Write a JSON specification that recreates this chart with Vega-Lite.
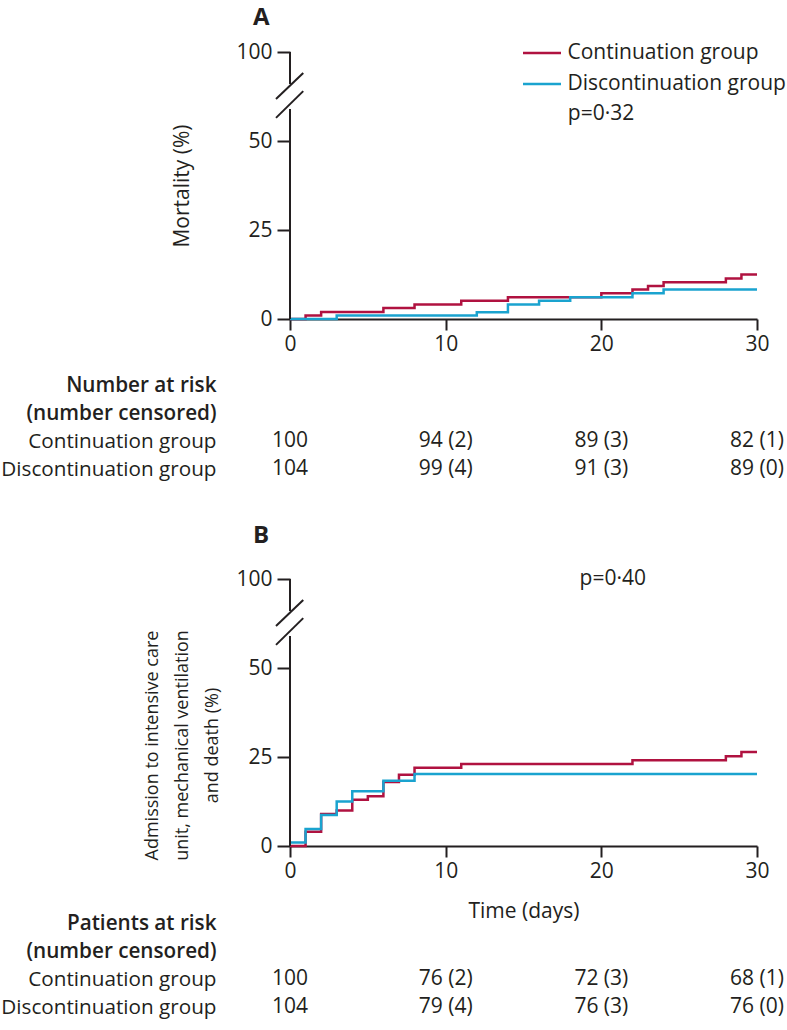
{
  "$schema": "https://vega.github.io/schema/vega-lite/v6.json",
  "background": "white",
  "padding": {"left": 0, "top": 6, "right": 0, "bottom": 0},
  "config": {
    "font": "Open Sans",
    "view": {"stroke": null},
    "axis": {"labelFont": "Open Sans", "titleFont": "Open Sans", "labelColor": "#231f20", "titleColor": "#231f20", "domainColor": "#231f20", "tickColor": "#231f20", "labelFontSize": 21, "titleFontSize": 21, "titleFontWeight": "normal", "grid": false, "domainWidth": 2, "tickWidth": 2},
    "legend": {"labelFont": "Open Sans", "labelColor": "#231f20"},
    "text": {"font": "Open Sans", "color": "#231f20"}
  },
  "datasets": {
    "curveA": [
      {"group": "Continuation group", "day": 0, "pct": 0},
      {"group": "Continuation group", "day": 1, "pct": 1.0},
      {"group": "Continuation group", "day": 2, "pct": 2.0},
      {"group": "Continuation group", "day": 6, "pct": 3.1},
      {"group": "Continuation group", "day": 8, "pct": 4.1},
      {"group": "Continuation group", "day": 11, "pct": 5.1},
      {"group": "Continuation group", "day": 14, "pct": 6.1},
      {"group": "Continuation group", "day": 20, "pct": 7.2},
      {"group": "Continuation group", "day": 22, "pct": 8.3},
      {"group": "Continuation group", "day": 23, "pct": 9.3},
      {"group": "Continuation group", "day": 24, "pct": 10.3},
      {"group": "Continuation group", "day": 28, "pct": 11.4},
      {"group": "Continuation group", "day": 29, "pct": 12.5},
      {"group": "Continuation group", "day": 30, "pct": 12.5},
      {"group": "Discontinuation group", "day": 0, "pct": 0},
      {"group": "Discontinuation group", "day": 3, "pct": 1.0},
      {"group": "Discontinuation group", "day": 12, "pct": 1.9},
      {"group": "Discontinuation group", "day": 14, "pct": 4.1},
      {"group": "Discontinuation group", "day": 16, "pct": 5.1},
      {"group": "Discontinuation group", "day": 18, "pct": 6.1},
      {"group": "Discontinuation group", "day": 22, "pct": 7.2},
      {"group": "Discontinuation group", "day": 24, "pct": 8.3},
      {"group": "Discontinuation group", "day": 30, "pct": 8.3}
    ],
    "curveB": [
      {"group": "Continuation group", "day": 0, "pct": 0},
      {"group": "Continuation group", "day": 1, "pct": 4.0},
      {"group": "Continuation group", "day": 2, "pct": 9.0},
      {"group": "Continuation group", "day": 3, "pct": 10.0},
      {"group": "Continuation group", "day": 4, "pct": 13.0},
      {"group": "Continuation group", "day": 5, "pct": 14.0},
      {"group": "Continuation group", "day": 6, "pct": 18.0},
      {"group": "Continuation group", "day": 7, "pct": 20.0},
      {"group": "Continuation group", "day": 8, "pct": 22.0},
      {"group": "Continuation group", "day": 11, "pct": 23.0},
      {"group": "Continuation group", "day": 22, "pct": 24.1},
      {"group": "Continuation group", "day": 28, "pct": 25.2},
      {"group": "Continuation group", "day": 29, "pct": 26.4},
      {"group": "Continuation group", "day": 30, "pct": 26.4},
      {"group": "Discontinuation group", "day": 0, "pct": 1.0},
      {"group": "Discontinuation group", "day": 1, "pct": 4.8},
      {"group": "Discontinuation group", "day": 2, "pct": 8.7},
      {"group": "Discontinuation group", "day": 3, "pct": 12.5},
      {"group": "Discontinuation group", "day": 4, "pct": 15.4},
      {"group": "Discontinuation group", "day": 6, "pct": 18.3},
      {"group": "Discontinuation group", "day": 8, "pct": 20.2},
      {"group": "Discontinuation group", "day": 30, "pct": 20.2}
    ],
    "tableA": [
      {"row": "Continuation group", "day": 0, "n": "100"},
      {"row": "Continuation group", "day": 10, "n": "94 (2)"},
      {"row": "Continuation group", "day": 20, "n": "89 (3)"},
      {"row": "Continuation group", "day": 30, "n": "82 (1)"},
      {"row": "Discontinuation group", "day": 0, "n": "104"},
      {"row": "Discontinuation group", "day": 10, "n": "99 (4)"},
      {"row": "Discontinuation group", "day": 20, "n": "91 (3)"},
      {"row": "Discontinuation group", "day": 30, "n": "89 (0)"}
    ],
    "tableB": [
      {"row": "Continuation group", "day": 0, "n": "100"},
      {"row": "Continuation group", "day": 10, "n": "76 (2)"},
      {"row": "Continuation group", "day": 20, "n": "72 (3)"},
      {"row": "Continuation group", "day": 30, "n": "68 (1)"},
      {"row": "Discontinuation group", "day": 0, "n": "104"},
      {"row": "Discontinuation group", "day": 10, "n": "79 (4)"},
      {"row": "Discontinuation group", "day": 20, "n": "76 (3)"},
      {"row": "Discontinuation group", "day": 30, "n": "76 (0)"}
    ]
  },
  "spacing": 41,
  "vconcat": [
    {
      "bounds": "flush",
      "spacing": 52,
      "vconcat": [
        {
          "width": 467,
          "height": 267,
          "title": {"text": "A", "anchor": "start", "frame": "group", "dx": -37, "fontSize": 24, "fontWeight": "bold", "offset": 11, "color": "#231f20", "font": "Open Sans"},
          "layer": [
            {
              "data": {"name": "curveA"},
              "mark": {"type": "line", "interpolate": "step-after", "strokeWidth": 2.5},
              "encoding": {
                "x": {"field": "day", "type": "quantitative", "scale": {"domain": [0, 30], "nice": false}, "axis": {"values": [0, 10, 20, 30], "title": null, "tickSize": 11, "labelPadding": 3, "labelFlush": false}},
                "y": {"field": "pct", "type": "quantitative", "scale": {"domain": [0, 75], "nice": false}, "axis": {"values": [0, 25, 50, 75], "labelExpr": "datum.value == 75 ? '100' : datum.label", "title": "Mortality (%)", "domain": false, "tickSize": 13, "labelPadding": 5, "titleX": -108, "titleAngle": -90, "titleBaseline": "middle"}},
                "color": {"field": "group", "type": "nominal", "scale": {"domain": ["Continuation group", "Discontinuation group"], "range": ["#b01240", "#1aa3cf"]}, "legend": {"orient": "none", "legendX": 231.5, "legendY": -19.5, "title": null, "symbolType": "stroke", "symbolSize": 1444, "symbolStrokeWidth": 2.5, "labelFontSize": 21, "labelOffset": 5, "labelLimit": 400, "rowPadding": -10, "padding": 0}}
              }
            },
            {
              "data": {"values": [{}]},
              "mark": {"type": "rule", "strokeWidth": 2, "color": "#231f20"},
              "encoding": {"x": {"datum": 0, "type": "quantitative"}, "y": {"datum": 0, "type": "quantitative"}, "y2": {"datum": 59}}
            },
            {
              "data": {"values": [{}]},
              "mark": {"type": "rule", "strokeWidth": 2, "color": "#231f20"},
              "encoding": {"x": {"datum": 0, "type": "quantitative"}, "y": {"datum": 66, "type": "quantitative"}, "y2": {"datum": 75}}
            },
            {
              "data": {"values": [{}]},
              "mark": {"type": "rule", "strokeWidth": 2, "color": "#231f20"},
              "encoding": {"x": {"datum": -0.9, "type": "quantitative"}, "x2": {"datum": 0.85}, "y": {"datum": 56.5, "type": "quantitative"}, "y2": {"datum": 64}}
            },
            {
              "data": {"values": [{}]},
              "mark": {"type": "rule", "strokeWidth": 2, "color": "#231f20"},
              "encoding": {"x": {"datum": -0.9, "type": "quantitative"}, "x2": {"datum": 0.85}, "y": {"datum": 61.8, "type": "quantitative"}, "y2": {"datum": 69.1}}
            },
            {
              "data": {"values": [{"p": "p=0·32"}]},
              "mark": {"type": "text", "align": "left", "baseline": "middle", "fontSize": 21},
              "encoding": {"x": {"datum": 17.85, "type": "quantitative"}, "y": {"datum": 57.5, "type": "quantitative"}, "text": {"field": "p"}}
            }
          ]
        },
        {
          "width": 467,
          "height": 112,
          "data": {"name": "tableA"},
          "mark": {"type": "text", "fontSize": 21, "align": "center", "baseline": "middle"},
          "encoding": {
            "x": {"field": "day", "type": "quantitative", "scale": {"domain": [0, 30], "nice": false}, "axis": null},
            "y": {"field": "row", "type": "nominal", "scale": {"domain": ["Number at risk", "(number censored)", "Continuation group", "Discontinuation group"], "paddingInner": 0, "paddingOuter": 0}, "axis": {"title": null, "domain": false, "ticks": false, "labelPadding": 74, "labelFontSize": 20.7, "labelLimit": 400, "labelFontWeight": {"condition": {"test": "datum.index < 0.5", "value": 600}, "value": "normal"}}},
            "text": {"field": "n", "type": "nominal"}
          }
        }
      ]
    },
    {
      "bounds": "flush",
      "spacing": 63,
      "vconcat": [
        {
          "width": 467,
          "height": 267,
          "title": {"text": "B", "anchor": "start", "frame": "group", "dx": -37, "fontSize": 24, "fontWeight": "bold", "offset": 20, "color": "#231f20", "font": "Open Sans"},
          "layer": [
            {
              "data": {"name": "curveB"},
              "mark": {"type": "line", "interpolate": "step-after", "strokeWidth": 2.5},
              "encoding": {
                "x": {"field": "day", "type": "quantitative", "scale": {"domain": [0, 30], "nice": false}, "axis": {"values": [0, 10, 20, 30], "title": "Time (days)", "titlePadding": 19, "tickSize": 11, "labelPadding": 3, "labelFlush": false}},
                "y": {"field": "pct", "type": "quantitative", "scale": {"domain": [0, 75], "nice": false}, "axis": {"values": [0, 25, 50, 75], "labelExpr": "datum.value == 75 ? '100' : datum.label", "title": ["Admission to intensive care", "unit, mechanical ventilation", "and death (%)"], "titleFontSize": 18, "titleLineHeight": 30, "domain": false, "tickSize": 13, "labelPadding": 5, "titleX": -138, "titleY": 166, "titleAngle": -90, "titleBaseline": "middle"}},
                "color": {"field": "group", "type": "nominal", "scale": {"domain": ["Continuation group", "Discontinuation group"], "range": ["#b01240", "#1aa3cf"]}, "legend": null}
              }
            },
            {
              "data": {"values": [{}]},
              "mark": {"type": "rule", "strokeWidth": 2, "color": "#231f20"},
              "encoding": {"x": {"datum": 0, "type": "quantitative"}, "y": {"datum": 0, "type": "quantitative"}, "y2": {"datum": 59}}
            },
            {
              "data": {"values": [{}]},
              "mark": {"type": "rule", "strokeWidth": 2, "color": "#231f20"},
              "encoding": {"x": {"datum": 0, "type": "quantitative"}, "y": {"datum": 66, "type": "quantitative"}, "y2": {"datum": 75}}
            },
            {
              "data": {"values": [{}]},
              "mark": {"type": "rule", "strokeWidth": 2, "color": "#231f20"},
              "encoding": {"x": {"datum": -0.9, "type": "quantitative"}, "x2": {"datum": 0.85}, "y": {"datum": 56.5, "type": "quantitative"}, "y2": {"datum": 64}}
            },
            {
              "data": {"values": [{}]},
              "mark": {"type": "rule", "strokeWidth": 2, "color": "#231f20"},
              "encoding": {"x": {"datum": -0.9, "type": "quantitative"}, "x2": {"datum": 0.85}, "y": {"datum": 61.8, "type": "quantitative"}, "y2": {"datum": 69.1}}
            },
            {
              "data": {"values": [{"p": "p=0·40"}]},
              "mark": {"type": "text", "align": "left", "baseline": "middle", "fontSize": 21},
              "encoding": {"x": {"datum": 18.6, "type": "quantitative"}, "y": {"datum": 75, "type": "quantitative"}, "text": {"field": "p"}}
            }
          ]
        },
        {
          "width": 467,
          "height": 112,
          "data": {"name": "tableB"},
          "mark": {"type": "text", "fontSize": 21, "align": "center", "baseline": "middle"},
          "encoding": {
            "x": {"field": "day", "type": "quantitative", "scale": {"domain": [0, 30], "nice": false}, "axis": null},
            "y": {"field": "row", "type": "nominal", "scale": {"domain": ["Patients at risk", "(number censored)", "Continuation group", "Discontinuation group"], "paddingInner": 0, "paddingOuter": 0}, "axis": {"title": null, "domain": false, "ticks": false, "labelPadding": 74, "labelFontSize": 20.7, "labelLimit": 400, "labelFontWeight": {"condition": {"test": "datum.index < 0.5", "value": 600}, "value": "normal"}}},
            "text": {"field": "n", "type": "nominal"}
          }
        }
      ]
    }
  ]
}
